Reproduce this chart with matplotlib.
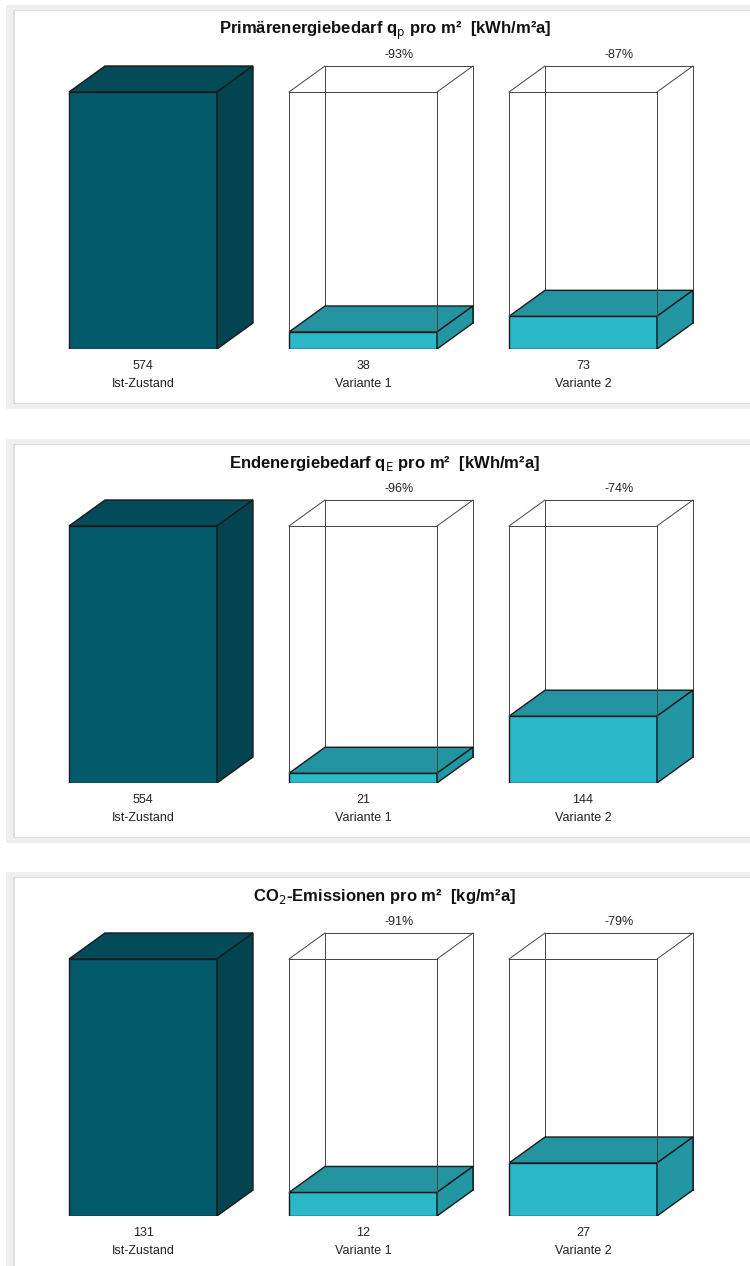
import matplotlib.pyplot as plt
from matplotlib.patches import Polygon, Rectangle

plt.rcParams['font.family'] = ['Liberation Sans Narrow', 'Liberation Sans', 'DejaVu Sans']
plt.rcParams['mathtext.fontset'] = 'custom'
plt.rcParams['mathtext.rm'] = 'Liberation Sans Narrow'
plt.rcParams['mathtext.bf'] = 'Liberation Sans Narrow:bold'

# data
categories = ["Ist-Zustand", "Variante 1", "Variante 2"]
titles = [r"Primärenergiebedarf q$_\mathrm{p}$ pro m²  [kWh/m²a]",
          r"Endenergiebedarf q$_\mathrm{E}$ pro m²  [kWh/m²a]",
          r"CO$_\mathrm{2}$-Emissionen pro m²  [kg/m²a]"]
primaer = [574, 38, 73]
endenergie = [554, 21, 144]
co2 = [131, 12, 27]
panels = [primaer, endenergie, co2]

# colours
ist_front, ist_top, ist_side = "#035a6b", "#034b59", "#02444f"
var_front, var_top, var_side = "#2bb8c8", "#23939f", "#2296a2"
edge = "#1a1a1a"

W, H = 750, 1266
fig = plt.figure(figsize=(W / 100, H / 100), dpi=100)

bg = fig.add_axes([0, 0, 1, 1])
bg.set_xlim(0, W)
bg.set_ylim(H, 0)
bg.axis('off')


def px_box(l, t, r, b):
    return [l / W, 1 - b / H, (r - l) / W, (b - t) / H]


offsets = [0, 434, 867]
for k, vals in enumerate(panels):
    oy = offsets[k]
    bg.add_patch(Rectangle((6, 5 + oy), 800, 404, color="#efefef", lw=0))
    bg.add_patch(Rectangle((13, 9.5 + oy), 800, 394, color="#dcdcdc", lw=0))
    bg.add_patch(Rectangle((14.5, 11 + oy), 800, 391.5, color="white", lw=0))
    fig.text(385 / W, 1 - (34 + oy) / H, titles[k], ha='center', va='baseline',
             fontsize=12, fontweight='bold', color="#111111")

    ist = vals[0]
    ax = fig.add_axes(px_box(33, 55 + oy, 743, 349 + oy))
    ax.set_xlim(-110 / 220, 600 / 220)
    ax.set_ylim(0, (349 - 55) / 257 * ist)
    ax.axis('off')

    w = 148 / 220
    dx = 36 / 220
    dy = 26 / 257 * ist
    ypx = ist / 257

    for i, v in enumerate(vals):
        x0 = i - w / 2
        x1 = i + w / 2
        if i == 0:
            cf, ct, cs = ist_front, ist_top, ist_side
        else:
            cf, ct, cs = var_front, var_top, var_side
            # wireframe behind the bar
            lk = dict(color="#444444", lw=0.7, zorder=1)
            ax.plot([x0 + dx, x0 + dx], [dy, ist + dy], **lk)
            ax.plot([x1 + dx, x1 + dx], [dy, ist + dy], **lk)
            ax.plot([x0 + dx, x1 + dx], [ist + dy, ist + dy], **lk)
            ax.plot([x0, x0 + dx], [ist, ist + dy], **lk)
            ax.plot([x1, x1 + dx], [ist, ist + dy], **lk)

        pk = dict(edgecolor=edge, lw=1.0, joinstyle='miter', zorder=2)
        ax.add_patch(Polygon([(x0, 0), (x1, 0), (x1, v), (x0, v)], facecolor=cf, **pk))
        ax.add_patch(Polygon([(x0, v), (x1, v), (x1 + dx, v + dy), (x0 + dx, v + dy)], facecolor=ct, **pk))
        ax.add_patch(Polygon([(x1, 0), (x1 + dx, dy), (x1 + dx, v + dy), (x1, v)], facecolor=cs, **pk))

        if i > 0:
            lk = dict(color="#444444", lw=0.7, zorder=3)
            ax.plot([x0, x0], [v, ist], **lk)
            ax.plot([x1, x1], [v, ist], **lk)
            ax.plot([x0, x1], [ist, ist], **lk)
            pct = round((v - ist) / ist * 100)
            ax.text(i + dx, ist + dy + 11 * ypx, f"{pct}%", ha='center', va='center',
                    fontsize=9, color="#222222")

        ax.text(i, -17 * ypx, str(v), ha='center', va='center', fontsize=9, color="#222222")
        ax.text(i, -35 * ypx, categories[i], ha='center', va='center', fontsize=9, color="#222222")

fig.savefig("out.png", dpi=100)
